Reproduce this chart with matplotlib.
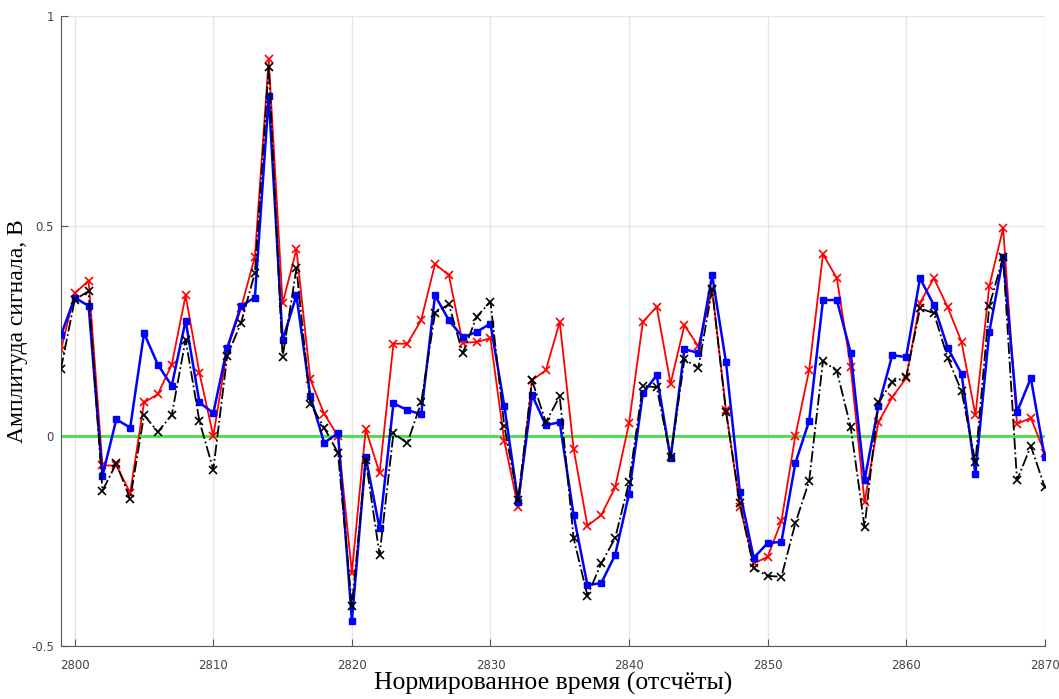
import numpy as np
import matplotlib
matplotlib.use("Agg")
import matplotlib.pyplot as plt

# отсчёты 2799..2870
t = np.arange(2799, 2871)

blue = [0.24, 0.33, 0.31, -0.095, 0.04, 0.02, 0.245, 0.17, 0.12, 0.275,
        0.08, 0.055, 0.21, 0.31, 0.33, 0.81, 0.228, 0.335, 0.095, -0.016,
        0.007, -0.44, -0.05, -0.22, 0.078, 0.062, 0.052, 0.335, 0.276, 0.235,
        0.248, 0.268, 0.072, -0.157, 0.098, 0.026, 0.033, -0.188, -0.355, -0.35,
        -0.283, -0.138, 0.102, 0.145, -0.053, 0.207, 0.198, 0.383, 0.176, -0.133,
        -0.29, -0.255, -0.252, -0.065, 0.036, 0.324, 0.324, 0.198, -0.105, 0.071,
        0.193, 0.188, 0.376, 0.312, 0.21, 0.148, -0.09, 0.248, 0.426, 0.057,
        0.138, -0.05]

red = [0.205, 0.34, 0.37, -0.07, -0.07, -0.135, 0.08, 0.10, 0.17, 0.335,
       0.15, 0.0, 0.205, 0.305, 0.427, 0.897, 0.316, 0.445, 0.135, 0.053,
       0.0, -0.325, 0.017, -0.088, 0.22, 0.22, 0.276, 0.41, 0.383, 0.222,
       0.224, 0.233, -0.012, -0.17, 0.133, 0.157, 0.272, -0.03, -0.214, -0.188,
       -0.122, 0.03, 0.272, 0.308, 0.125, 0.264, 0.214, 0.348, 0.062, -0.168,
       -0.303, -0.288, -0.202, 0.0, 0.157, 0.433, 0.376, 0.164, -0.157, 0.033,
       0.093, 0.138, 0.317, 0.376, 0.307, 0.224, 0.05, 0.357, 0.495, 0.029,
       0.043, -0.04]

black = [0.16, 0.325, 0.345, -0.13, -0.065, -0.15, 0.05, 0.01, 0.05, 0.23,
         0.035, -0.08, 0.19, 0.27, 0.388, 0.88, 0.188, 0.40, 0.077, 0.02,
         -0.04, -0.405, -0.057, -0.283, 0.007, -0.017, 0.08, 0.293, 0.314, 0.197,
         0.284, 0.32, 0.024, -0.152, 0.133, 0.033, 0.095, -0.243, -0.38, -0.303,
         -0.243, -0.11, 0.12, 0.116, -0.05, 0.183, 0.162, 0.35, 0.057, -0.16,
         -0.315, -0.333, -0.335, -0.208, -0.107, 0.179, 0.155, 0.021, -0.217, 0.081,
         0.129, 0.14, 0.304, 0.293, 0.186, 0.107, -0.062, 0.31, 0.426, -0.105,
         -0.024, -0.121]

fig = plt.figure(figsize=(10.59, 6.99), dpi=100)
ax = fig.add_axes([0.0575, 0.0758, 0.929, 0.901])

ax.axhline(0, color='#44e044', lw=2, zorder=1)
ax.plot(t, red, color='red', lw=1.3, marker='x', ms=6, mew=1.2, zorder=2)
ax.plot(t, blue, color='blue', lw=1.8, marker='s', ms=4.5, zorder=3)
ax.plot(t, black, color='black', lw=1.3, ls='-.', marker='x', ms=6, mew=1.2, zorder=4)

ax.set_xlim(2799, 2870)
ax.set_ylim(-0.5, 1)
ax.set_xticks(np.arange(2800, 2871, 10))
ax.set_yticks([-0.5, 0, 0.5, 1])
ax.set_yticklabels(['-0.5', '0', '0.5', '1'])
ax.grid(True, color='#e6e6e6', lw=1)
ax.set_axisbelow(True)

for s in ['top', 'right']:
    ax.spines[s].set_visible(False)
for s in ['left', 'bottom']:
    ax.spines[s].set_color('#555555')
ax.tick_params(direction='in', length=5, colors='#555555', labelsize=8.5,
               labelcolor='#444444')
ax.tick_params(axis='x', pad=9)
ax.tick_params(axis='y', pad=5)

serif = ['Liberation Serif', 'DejaVu Serif']
ax.set_xlabel('Нормированное время (отсчёты)', family=serif, fontsize=18.5,
              labelpad=0)
ax.set_ylabel('Амплитуда сигнала, В', family=serif, fontsize=17, labelpad=2)

fig.savefig('out.png', dpi=100)
